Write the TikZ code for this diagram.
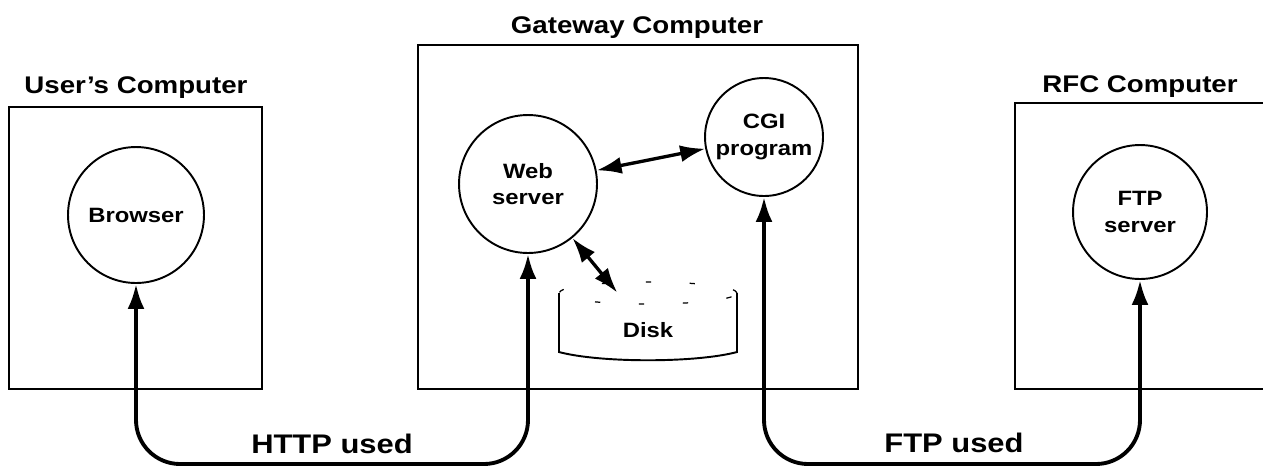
\documentclass[tikz,border=0pt]{standalone}
\usepackage{fontspec}
\setmainfont{Liberation Sans}[FakeStretch=1.15]
\usetikzlibrary{arrows.meta}

\begin{document}
\begin{tikzpicture}[
        x=0.02cm, y=-0.02cm,
        >={Latex[length=0.5cm,width=0.34cm]},
        box_comp/.style={draw, line width=1.1pt},
        label_comp/.style={anchor=base, font=\bfseries\fontsize{13.7}{16}\selectfont},
        label_proto/.style={anchor=base, font=\bfseries\fontsize{15.3}{18}\selectfont},
        node_proc/.style={draw, circle, line width=1.1pt, inner sep=0pt, align=center, font=\bfseries\fontsize{11.8}{15}\selectfont},
        node_disk/.style={rectangle, inner sep=0pt, minimum width=3.56cm, minimum height=1.48cm, font=\bfseries\fontsize{11.8}{15}\selectfont},
        disk_rim/.style={draw, line width=0.7pt, dash pattern=on 3pt off 22pt},
        link_proto/.style={draw, line width=2.2pt, rounded corners=0.88cm, <->},
        link_inner/.style={draw, line width=1.9pt, <->}
        ]
    \useasboundingbox (0,0) rectangle (1263,468);

    \draw[box_comp] (9,107) rectangle (262,389);
    \draw[box_comp] (418,45) rectangle (858,389);
    \draw[box_comp] (1263,103) -| (1015,389) -- (1263,389);

    \node[label_comp] (user_lbl) at (136,93) {User's Computer};
    \node[label_comp] (gate_lbl) at (637,33) {Gateway Computer};
    \node[label_comp] (rfc_lbl) at (1140,92) {RFC Computer};

    \node[node_proc, minimum size=2.72cm] (browser) at (136,215) {Browser};
    \node[node_proc, minimum size=2.76cm] (web) at (528,184) {Web\\server};
    \node[node_proc, minimum size=2.36cm] (cgi) at (764,137) {CGI\\program};
    \node[node_proc, minimum size=2.68cm] (ftp) at (1140,212) {FTP\\server};

    \node[node_disk] (disk) at (648,330) {Disk};
    \draw[box_comp] (559,293) -- (559,352) .. controls (600,363) and (696,363) .. (737,352) -- (737,293);
    \draw[disk_rim] (648,293) ellipse [x radius=1.78cm, y radius=0.22cm];

    \coordinate (http_base) at (330,464);
    \coordinate (ftp_base) at (950,464);
    \draw[link_proto] (browser) -- (browser |- http_base) -- (web |- http_base) -- (web);
    \draw[link_proto] (cgi) -- (cgi |- ftp_base) -- (ftp |- ftp_base) -- (ftp);
    \draw[link_inner] (web) -- (cgi);
    \draw[link_inner] (web) -- (disk);

    \node[label_proto] (http_lbl) at (332,453) {HTTP used};
    \node[label_proto] (ftp_lbl) at (954,452) {FTP used};
\end{tikzpicture}
\end{document}
